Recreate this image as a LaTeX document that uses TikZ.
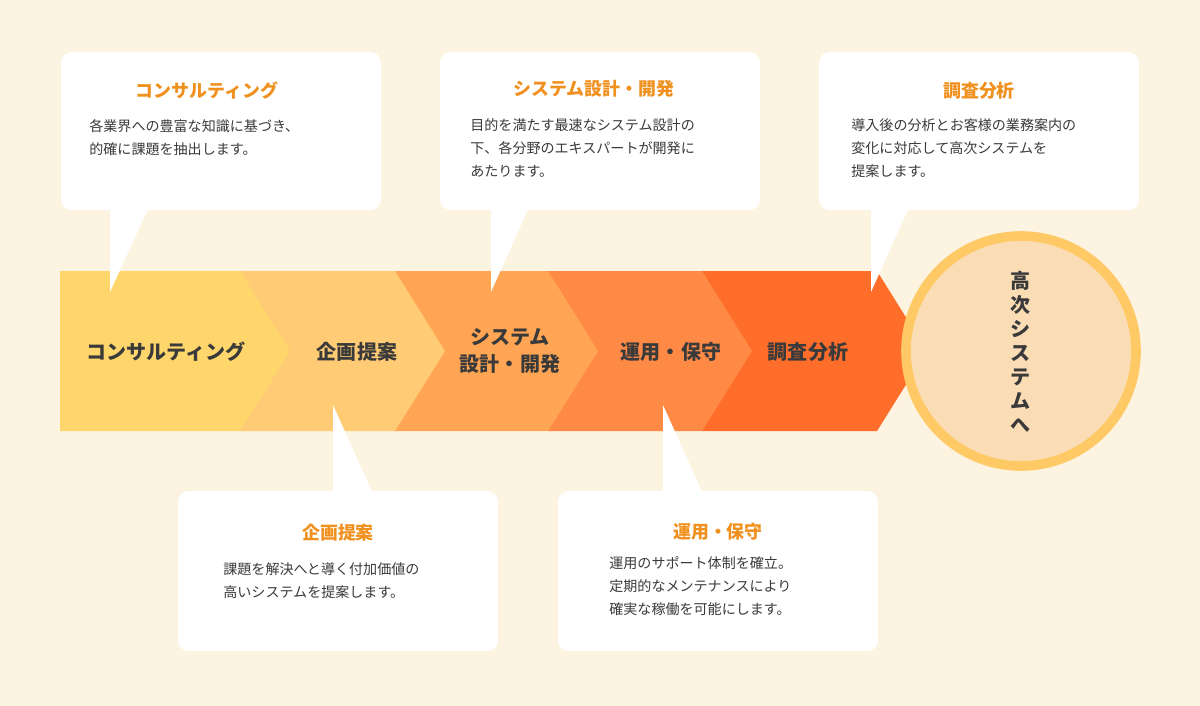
\documentclass[tikz,border=0pt]{standalone}
\usepackage{fontspec}
\setmainfont{Noto Sans CJK JP}
\definecolor{bgcol}{HTML}{FCF3E0}
\definecolor{segA}{HTML}{FFD66B}
\definecolor{segB}{HTML}{FFCB75}
\definecolor{segC}{HTML}{FFA553}
\definecolor{segD}{HTML}{FF8A45}
\definecolor{segE}{HTML}{FF6D2A}
\definecolor{ringcol}{HTML}{FFC966}
\definecolor{circfill}{HTML}{FADDB5}
\definecolor{titlecol}{HTML}{F0901E}
\definecolor{textcol}{HTML}{3A3A3A}
\tikzset{
  boxstyle/.style={fill=white,rounded corners=6pt,draw=none},
  titlestyle/.style={text=titlecol,font=\bfseries\fontsize{10.2pt}{12pt}\selectfont},
  bodystyle/.style={text=textcol,align=left,anchor=north west,inner sep=0pt,
    font=\fontsize{8pt}{13.2pt}\selectfont},
  steplabel/.style={text=textcol,align=center,font=\bfseries\fontsize{11.4pt}{15pt}\selectfont}
}
\begin{document}
\begin{tikzpicture}[x=0.02cm,y=-0.02cm]
  \fill[bgcol] (0,0) rectangle (1200,706);
  % chevrons, last one first
  \fill[segE] (702,271) -- (877,271) -- (927,351) -- (877,431) -- (702,431) -- cycle;
  \fill[segD] (548,271) -- (702,271) -- (752,351) -- (702,431) -- (548,431) -- cycle;
  \fill[segC] (395,271) -- (548,271) -- (598,351) -- (548,431) -- (395,431) -- cycle;
  \fill[segB] (240,271) -- (395,271) -- (445,351) -- (395,431) -- (240,431) -- cycle;
  \fill[segA] (60,271) -- (240,271) -- (290,351) -- (240,431) -- (60,431) -- cycle;

  \node[steplabel] (s1) at (166,352) {コンサルティング};
  \node[steplabel] (s2) at (357,352) {企画提案};
  \node[steplabel] (s3) at (510,351) {システム\\設計・開発};
  \node[steplabel] (s4) at (671,352) {運用・保守};
  \node[steplabel] (s5) at (808,352) {調査分析};

  \draw[ringcol,line width=5.5pt,fill=circfill] (1021,351) circle (115);
  \node[steplabel,font=\bfseries\fontsize{11.4pt}{13.7pt}\selectfont] (goal) at (1021,352)
    {高\\次\\シ\\ス\\テ\\ム\\へ};

  % callouts
  \fill[boxstyle] (61,52) rectangle (381,210);
  \fill[white] (110,205) -- (150,205) -- (110,292) -- cycle;
  \fill[boxstyle] (440,52) rectangle (760,210);
  \fill[white] (491,205) -- (530,205) -- (491,292) -- cycle;
  \fill[boxstyle] (819,52) rectangle (1139,210);
  \fill[white] (871,205) -- (910,205) -- (871,292) -- cycle;
  \fill[boxstyle] (178,491) rectangle (498,651);
  \fill[white] (333,496) -- (374,496) -- (333,405) -- cycle;
  \fill[boxstyle] (558,491) rectangle (878,651);
  \fill[white] (663,496) -- (704,496) -- (663,405) -- cycle;

  \node[titlestyle] (t1) at (207,91) {コンサルティング};
  \node[bodystyle] (b1) at (89,119) {各業界への豊富な知識に基づき、\\的確に課題を抽出します。};
  \node[titlestyle] (t2) at (594,89) {システム設計・開発};
  \node[bodystyle] (b2) at (470,118) {目的を満たす最速なシステム設計の\\下、各分野のエキスパートが開発に\\あたります。};
  \node[titlestyle] (t3) at (979,91) {調査分析};
  \node[bodystyle] (b3) at (851,118) {導入後の分析とお客様の業務案内の\\変化に対応して高次システムを\\提案します。};
  \node[titlestyle] (t4) at (338,533) {企画提案};
  \node[bodystyle] (b4) at (223,562) {課題を解決へと導く付加価値の\\高いシステムを提案します。};
  \node[titlestyle] (t5) at (718,532) {運用・保守};
  \node[bodystyle] (b5) at (609,556) {運用のサポート体制を確立。\\定期的なメンテナンスにより\\確実な稼働を可能にします。};
\end{tikzpicture}
\end{document}
